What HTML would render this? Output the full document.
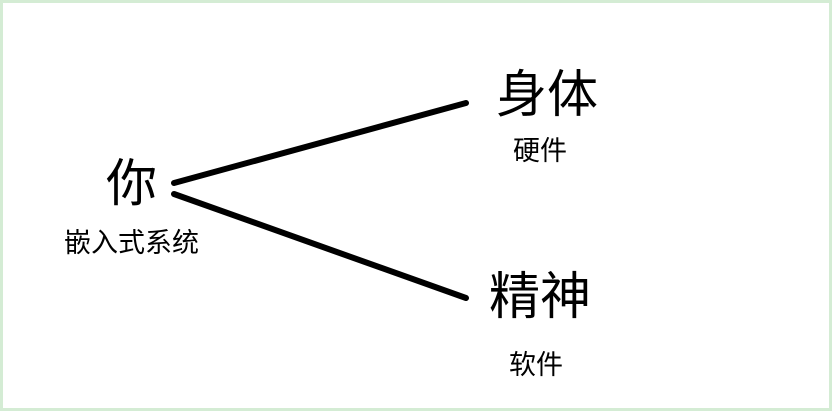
<!DOCTYPE html>
<html><head><meta charset="utf-8"><style>
body{margin:0;width:832px;height:411px;overflow:hidden;background:#fff}
.f{position:absolute;left:0;top:0;width:826px;height:405px;border:3px solid #d4ecd4}
.t{position:absolute;line-height:1;white-space:nowrap;color:#000;font-family:"Liberation Sans","Noto Sans CJK SC",sans-serif}
</style></head><body>
<div class="f"></div>
<svg style="position:absolute;left:0;top:0" width="832" height="411">
<line x1="174" y1="183" x2="466" y2="103" stroke="#000" stroke-width="6" stroke-linecap="round"/>
<line x1="174" y1="194" x2="466" y2="298" stroke="#000" stroke-width="6" stroke-linecap="round"/>
</svg>
<div class="t" style="left:106px;top:158px;font-size:51px">你</div>
<div class="t" style="left:64px;top:230px;font-size:27px">嵌入式系统</div>
<div class="t" style="left:496px;top:69px;font-size:51px">身体</div>
<div class="t" style="left:513px;top:138px;font-size:27px">硬件</div>
<div class="t" style="left:489px;top:271px;font-size:51px">精神</div>
<div class="t" style="left:509px;top:352px;font-size:27px">软件</div>
</body></html>
